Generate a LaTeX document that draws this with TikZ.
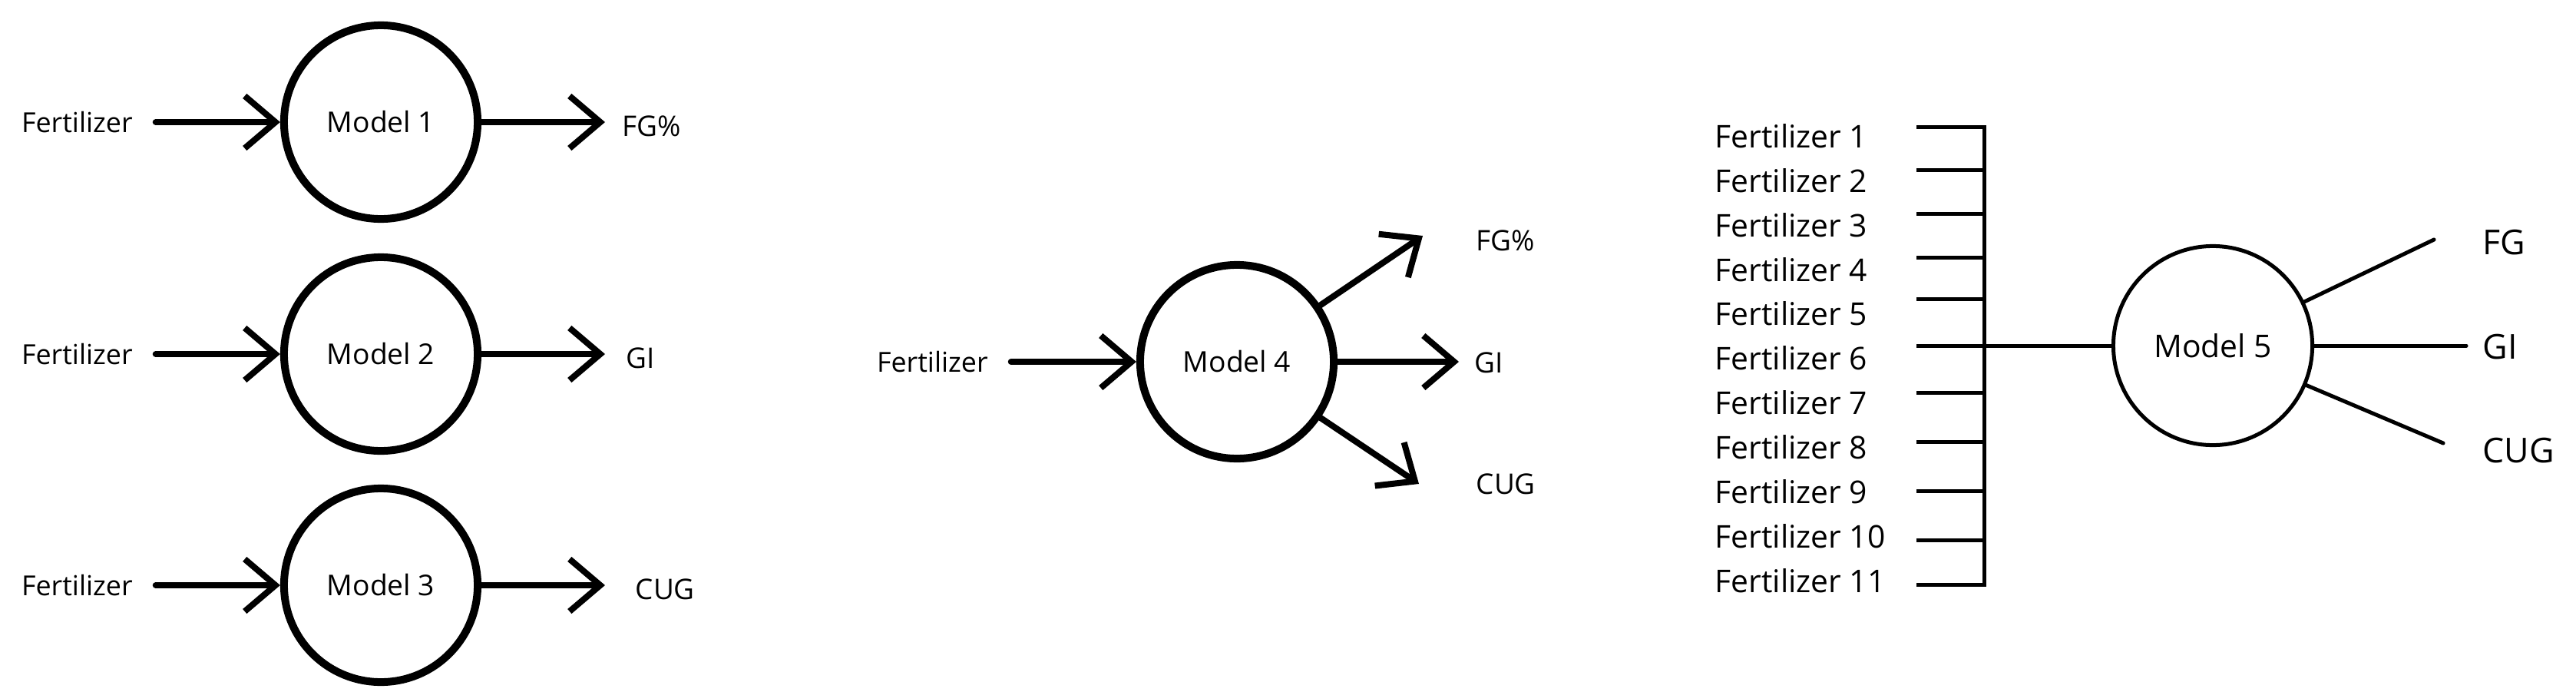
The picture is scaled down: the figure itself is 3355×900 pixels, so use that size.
\documentclass[tikz,border=0pt]{standalone}
\usepackage{fontspec}
\setmainfont{Open Sans}
\usetikzlibrary{arrows.meta}
\begin{document}
\begin{tikzpicture}[x=0.01cm,y=-0.01cm,
  model/.style={circle,draw,line width=1mm,minimum size=2.52cm,inner sep=0pt,font=\fontsize{10.6}{12}\selectfont},
  modelfive/.style={circle,draw,line width=0.5mm,minimum size=2.59cm,inner sep=0pt,font=\fontsize{11.6}{14}\selectfont},
  fert/.style={inner sep=0pt,outer xsep=3mm,anchor=west,font=\fontsize{10.2}{12}\selectfont},
  lab/.style={inner sep=0pt,anchor=west,font=\fontsize{10.5}{12}\selectfont},
  fertfive/.style={inner sep=0pt,anchor=west,font=\fontsize{11.6}{14}\selectfont},
  labfive/.style={inner sep=0pt,anchor=west,font=\fontsize{12.7}{15}\selectfont},
  arr/.style={line width=0.8mm,line cap=round,-{Straight Barb[length=4mm,width=6.8mm]}},
  thinline/.style={line width=0.5mm},
]
\useasboundingbox (0,0) rectangle (3355,900);

% ---- Models 1-3 ----
\foreach \k/\y/\out/\lx in {1/159/FG\%/810, 2/461/GI/815, 3/762/CUG/827}{
  \node[model] (m\k) at (496,\y) {Model \k};
  \node[fert] (f\k) at (-2,\y) {Fertilizer};
  \coordinate (t\k) at (788,\y);
  \node[lab] (o\k) at (\lx,\y+5) {\out};
  \draw[arr] (f\k) -- (m\k);
  \draw[arr] (m\k) -- (t\k);
}

% ---- Model 4 ----
\node[model] (m4) at (1611,471) {Model 4};
\node[fert] (f4) at (1112,471) {Fertilizer};
\draw[arr] (f4) -- (m4);
\coordinate (t4a) at (1853,307);
\coordinate (t4b) at (1900,471);
\coordinate (t4c) at (1848,630);
\draw[arr] (m4) -- (t4a);
\draw[arr] (m4) -- (t4b);
\draw[arr] (m4) -- (t4c);
\node[lab] (o4a) at (1922,313) {FG\%};
\node[lab] (o4b) at (1920,472) {GI};
\node[lab] (o4c) at (1922,630) {CUG};

% ---- Model 5 ----
\node[modelfive] (m5) at (2882,450) {Model 5};
\foreach \i in {1,...,11}{
  \node[fertfive] (F\i) at (2233,{177+57.9*(\i-1)}) {Fertilizer \i};
}
\coordinate (btop) at (2584,165);
\coordinate (bbot) at (2584,761);
\coordinate (bj) at (2584,450);
\draw[thinline] (2496,165) -- (btop) -- (bbot) -- (2496,761);
\foreach \ty in {221,278,335,389,450,511,575,639,703}{
  \draw[thinline] (2496,\ty) -- (2584,\ty);
}
\draw[thinline] (bj) -- (m5);
\coordinate (e5a) at (3170,312);
\coordinate (e5b) at (3212,450);
\coordinate (e5c) at (3182,577);
\draw[thinline,line cap=round] (m5) -- (e5a);
\draw[thinline,line cap=round] (m5) -- (e5b);
\draw[thinline,line cap=round] (m5) -- (e5c);
\node[labfive] (g5a) at (3233,316) {FG};
\node[labfive] (g5b) at (3233,452) {GI};
\node[labfive] (g5c) at (3233,587) {CUG};
\end{tikzpicture}
\end{document}
